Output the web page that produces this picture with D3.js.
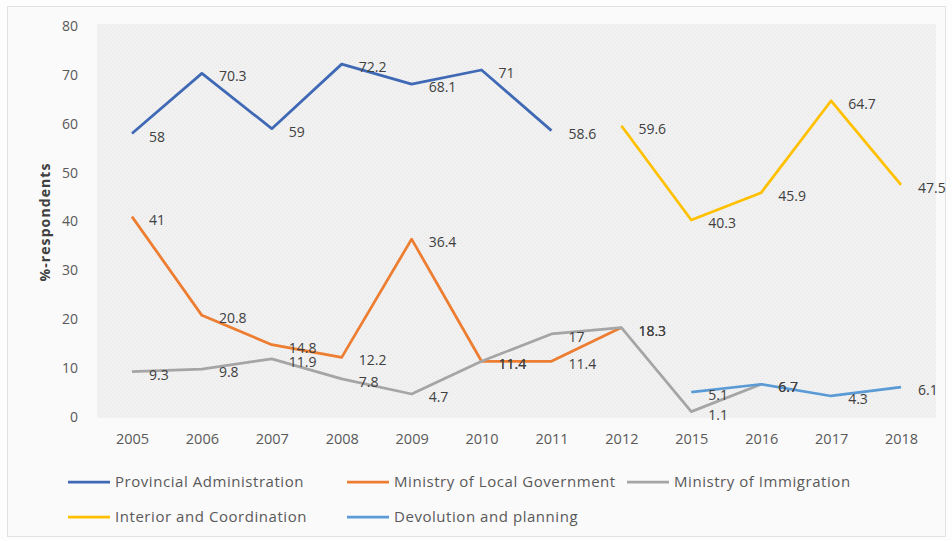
<!DOCTYPE html>
<html>
<head>
<meta charset="utf-8">
<script src="https://cdn.jsdelivr.net/npm/d3@7"></script>
<style>
  html, body { margin: 0; padding: 0; background: #fdfdfd; }
  svg { display: block; }
  text { font-family: "Open Sans", "Liberation Sans", sans-serif; }
</style>
</head>
<body>
<svg id="chart" width="952" height="541"></svg>
<script>
// Survey years along the category axis
const years = ["2005", "2006", "2007", "2008", "2009", "2010", "2011", "2012", "2015", "2016", "2017", "2018"];
const yTicks = [0, 10, 20, 30, 40, 50, 60, 70, 80];

// % of respondents per institution (null = not asked that year)
const provincialAdministration = [58, 70.3, 59, 72.2, 68.1, 71, 58.6, null, null, null, null, null];
const localGovernment        = [41, 20.8, 14.8, 12.2, 36.4, 11.4, 11.4, 18.3, null, null, null, null];
const immigration            = [9.3, 9.8, 11.9, 7.8, 4.7, 11.4, 17, 18.3, 1.1, 6.7, null, null];
const interiorCoordination   = [null, null, null, null, null, null, null, 59.6, 40.3, 45.9, 64.7, 47.5];
const devolutionPlanning     = [null, null, null, null, null, null, null, null, 5.1, 6.7, 4.3, 6.1];

const seriesNames = ["Provincial Administration", "Ministry of Local Government", "Ministry of Immigration",
                     "Interior and Coordination", "Devolution and planning"];
const seriesValues = [provincialAdministration, localGovernment, immigration, interiorCoordination, devolutionPlanning];
const seriesColors = ["#4069b5", "#ed7d31", "#a5a5a5", "#ffc000", "#5b9bd5"];

const svg = d3.select("#chart");

// outer chart frame
svg.append("rect")
  .attr("x", 7.5).attr("y", 6.5).attr("width", 938).attr("height", 530)
  .attr("fill", "#fafafa").attr("stroke", "#e2e2e2");

// fine texture for the plot area
const defs = svg.append("defs");
const pat = defs.append("pattern").attr("id", "plotTex")
  .attr("width", 4).attr("height", 4).attr("patternUnits", "userSpaceOnUse");
pat.append("rect").attr("width", 4).attr("height", 4).attr("fill", "#f1f1f1");
pat.append("rect").attr("x", 0).attr("y", 0).attr("width", 1).attr("height", 1).attr("fill", "#e6e6e6");
pat.append("rect").attr("x", 2).attr("y", 2).attr("width", 1).attr("height", 1).attr("fill", "#e6e6e6");

const plot = { left: 97, right: 936, top: 24, bottom: 418 };

svg.append("rect")
  .attr("x", plot.left).attr("y", plot.top)
  .attr("width", plot.right - plot.left).attr("height", plot.bottom - plot.top)
  .attr("fill", "url(#plotTex)");

const x = d3.scalePoint().domain(years).range([plot.left, plot.right]).padding(0.5);
const y = d3.scaleLinear().domain([0, 80]).range([417, 26]);

// y axis
const yAxis = svg.append("g")
  .attr("transform", `translate(${plot.left},0)`)
  .call(d3.axisLeft(y).tickValues(yTicks).tickSize(0).tickPadding(19));
yAxis.select(".domain").remove();
yAxis.selectAll("text")
  .attr("fill", "#595959").style("font-size", "14px");

// x axis
const xAxis = svg.append("g")
  .attr("transform", `translate(0,${plot.bottom})`)
  .call(d3.axisBottom(x).tickSize(0).tickPadding(16));
xAxis.select(".domain").remove();
xAxis.selectAll("text")
  .attr("fill", "#595959").style("font-size", "14.5px");

// y axis title
svg.append("text")
  .attr("transform", "translate(50,222) rotate(-90)")
  .attr("text-anchor", "middle")
  .attr("fill", "#404040")
  .style("font-size", "14px").style("font-weight", "bold")
  .style("letter-spacing", "1.1px")
  .text("%-respondents");

// lines
const line = d3.line()
  .defined(d => d.v !== null)
  .x(d => x(d.year))
  .y(d => y(d.v));

const seriesData = seriesValues.map((vals, i) => ({
  name: seriesNames[i],
  color: seriesColors[i],
  points: vals.map((v, j) => ({ year: years[j], v }))
}));

svg.append("g").selectAll("path")
  .data(seriesData)
  .join("path")
  .attr("d", s => line(s.points))
  .attr("fill", "none")
  .attr("stroke", s => s.color)
  .attr("stroke-width", 2.75)
  .attr("stroke-linejoin", "round");

// value labels to the right of each point
const labelGroup = svg.append("g");
seriesData.forEach(s => {
  labelGroup.selectAll(null)
    .data(s.points.filter(p => p.v !== null))
    .join("text")
    .attr("x", p => x(p.year) + 17)
    .attr("y", p => y(p.v) + 8)
    .attr("fill", "#404040")
    .style("font-size", "14px")
    .text(p => p.v);
});

// legend
const legendPos = [[68, 482], [347, 482], [627, 482], [68, 517], [347, 517]];
const legend = svg.append("g").selectAll("g")
  .data(seriesData)
  .join("g")
  .attr("transform", (s, i) => `translate(${legendPos[i][0]},${legendPos[i][1]})`);
legend.append("line")
  .attr("x1", 0).attr("x2", 42).attr("y1", 0).attr("y2", 0)
  .attr("stroke", s => s.color).attr("stroke-width", 2.75);
legend.append("text")
  .attr("x", 47).attr("y", 5)
  .attr("fill", "#595959")
  .style("font-size", "15px")
  .style("letter-spacing", "0.55px")
  .text(s => s.name);
</script>
</body>
</html>
